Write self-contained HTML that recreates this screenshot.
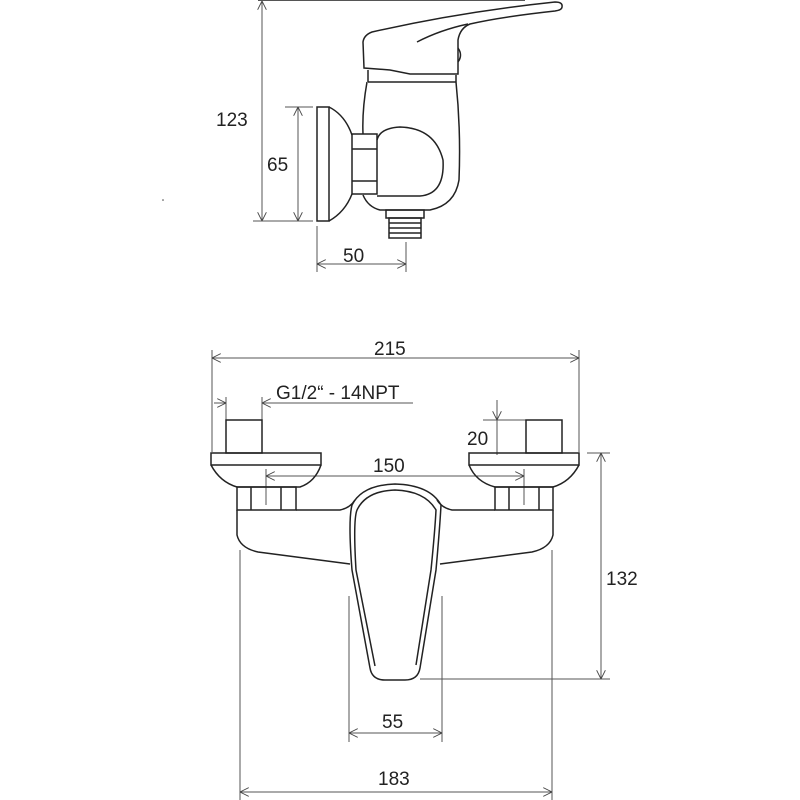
<!DOCTYPE html>
<html><head><style>
html,body{margin:0;padding:0;background:#fff;}
svg{display:block}
text{font-family:"Liberation Sans",Arial,sans-serif;fill:#222;font-size:19px}
</style></head><body>
<svg width="800" height="800" viewBox="0 0 800 800" xmlns="http://www.w3.org/2000/svg">
<defs>
<marker id="a" viewBox="0 0 10 10" refX="10" refY="5" markerWidth="9" markerHeight="9" orient="auto-start-reverse" markerUnits="userSpaceOnUse">
<path d="M0,0 L10,5 L0,10" fill="none" stroke="#444" stroke-width="1"/>
</marker>
</defs>
<g fill="none" stroke="#555" stroke-width="1">
<line x1="258" y1="0.5" x2="525" y2="0.5"/>
<line x1="262" y1="1" x2="262" y2="221" marker-start="url(#a)" marker-end="url(#a)"/>
<line x1="253" y1="221" x2="313" y2="221"/>
<line x1="285" y1="107" x2="313" y2="107"/>
<line x1="298" y1="107" x2="298" y2="221" marker-start="url(#a)" marker-end="url(#a)"/>
<line x1="317" y1="226" x2="317" y2="272"/>
<line x1="406" y1="242" x2="406" y2="272"/>
<line x1="317" y1="264" x2="406" y2="264" marker-start="url(#a)" marker-end="url(#a)"/>
</g>
<g fill="none" stroke="#222" stroke-width="1.5">
<rect x="317" y="107" width="12" height="114"/>
<path d="M329,107 Q345,115 352,135 M352,194 Q345,212 329,221"/>
<rect x="352" y="134" width="25" height="60"/>
<line x1="352" y1="149" x2="377" y2="149"/>
<line x1="352" y1="181" x2="377" y2="181"/>
<path d="M368,82 L456,82 M367,82 Q362,110 363,134 M363,195 Q368,207 380,210 L430,210 Q455,205 459,180 Q461,130 456,82"/>
<path d="M368,70 L368,82 M456,75 L456,82"/>
<path d="M377,140 Q380,128 400,127 Q435,128 443,160 Q445,194 420,196 L377,196"/>
<rect x="386" y="210" width="38" height="8"/>
<rect x="389" y="218" width="32" height="20"/>
<line x1="389" y1="223" x2="421" y2="223"/>
<line x1="389" y1="228" x2="421" y2="228"/>
<line x1="389" y1="233" x2="421" y2="233"/>
<path d="M364,68 L363,42 Q364,35 372,32 Q460,12 555,2 Q563,2 562,7 Q562,10 555,11 Q500,17 470,24 Q460,28 458,40 L458,74 L410,74 L390,70 Z"/>
<path d="M417,42 Q440,30 468,24"/>
<path d="M458,48 Q463,55 458,62"/>
</g>
<circle cx="163" cy="200" r="0.8" fill="#444"/>
<text x="216" y="126">123</text>
<text x="267" y="171">65</text>
<text x="343" y="262">50</text>

<g fill="none" stroke="#555" stroke-width="1">
<line x1="212" y1="350" x2="212" y2="452"/>
<line x1="579" y1="350" x2="579" y2="452"/>
<line x1="212" y1="358" x2="579" y2="358" marker-start="url(#a)" marker-end="url(#a)"/>
<line x1="226" y1="397" x2="226" y2="420"/>
<line x1="262" y1="397" x2="262" y2="420"/>
<line x1="214" y1="403" x2="226" y2="403" marker-end="url(#a)"/>
<line x1="274" y1="403" x2="262" y2="403" marker-end="url(#a)"/>
<line x1="262" y1="403" x2="413" y2="403"/>
<line x1="266" y1="469" x2="266" y2="505"/>
<line x1="524" y1="469" x2="524" y2="505"/>
<line x1="266" y1="476" x2="524" y2="476" marker-start="url(#a)" marker-end="url(#a)"/>
<line x1="483" y1="420" x2="526" y2="420"/>
<line x1="497" y1="400" x2="497" y2="420" marker-end="url(#a)"/>
<line x1="497" y1="420" x2="497" y2="455"/>
<line x1="587" y1="453" x2="610" y2="453"/>
<line x1="420" y1="679" x2="610" y2="679"/>
<line x1="601" y1="453" x2="601" y2="679" marker-start="url(#a)" marker-end="url(#a)"/>
<line x1="349" y1="596" x2="349" y2="742"/>
<line x1="442" y1="596" x2="442" y2="742"/>
<line x1="349" y1="733" x2="442" y2="733" marker-start="url(#a)" marker-end="url(#a)"/>
<line x1="240" y1="550" x2="240" y2="800"/>
<line x1="552" y1="550" x2="552" y2="800"/>
<line x1="240" y1="792" x2="552" y2="792" marker-start="url(#a)" marker-end="url(#a)"/>
</g>
<g fill="none" stroke="#222" stroke-width="1.5">
<rect x="226" y="420" width="36" height="33"/>
<rect x="526" y="420" width="36" height="33"/>
<path d="M211,453 L321,453 L321,465 L211,465 Z M211,465 Q220,482 237,487 L300,487 Q315,482 321,465"/>
<path d="M469,453 L579,453 L579,465 L469,465 Z M469,465 Q476,482 495,487 L553,487 Q570,482 579,465"/>
<rect x="237" y="487" width="59" height="23"/>
<line x1="251" y1="487" x2="251" y2="510"/><line x1="281" y1="487" x2="281" y2="510"/>
<rect x="495" y="487" width="58" height="23"/>
<line x1="509" y1="487" x2="509" y2="510"/><line x1="539" y1="487" x2="539" y2="510"/>
<path d="M237,510 L237,535 Q240,548 258,552 L350,564"/>
<path d="M553,510 L553,535 Q550,548 532,552 L440,564"/>
<path d="M296,510 L340,510 Q350,508 355,500"/>
<path d="M495,510 L452,510 Q442,508 437,500"/>
<path d="M352,505 Q362,485 395,484 Q430,485 441,505 Q440,525 436,570 L420,668 Q418,680 405,680 L385,680 Q372,680 370,668 L352,570 Q348,520 352,505 Z"/>
<path d="M357,510 Q366,491 395,490 Q425,491 436,510 Q435,530 431,570 L416,665 M375,666 L356,570 Q353,520 357,510"/>
</g>
<text x="374" y="355">215</text>
<text x="276" y="399">G1/2“ - 14NPT</text>
<text x="373" y="472">150</text>
<text x="467" y="445">20</text>
<text x="606" y="585">132</text>
<text x="382" y="728">55</text>
<text x="378" y="785">183</text>
</svg>
</body></html>
